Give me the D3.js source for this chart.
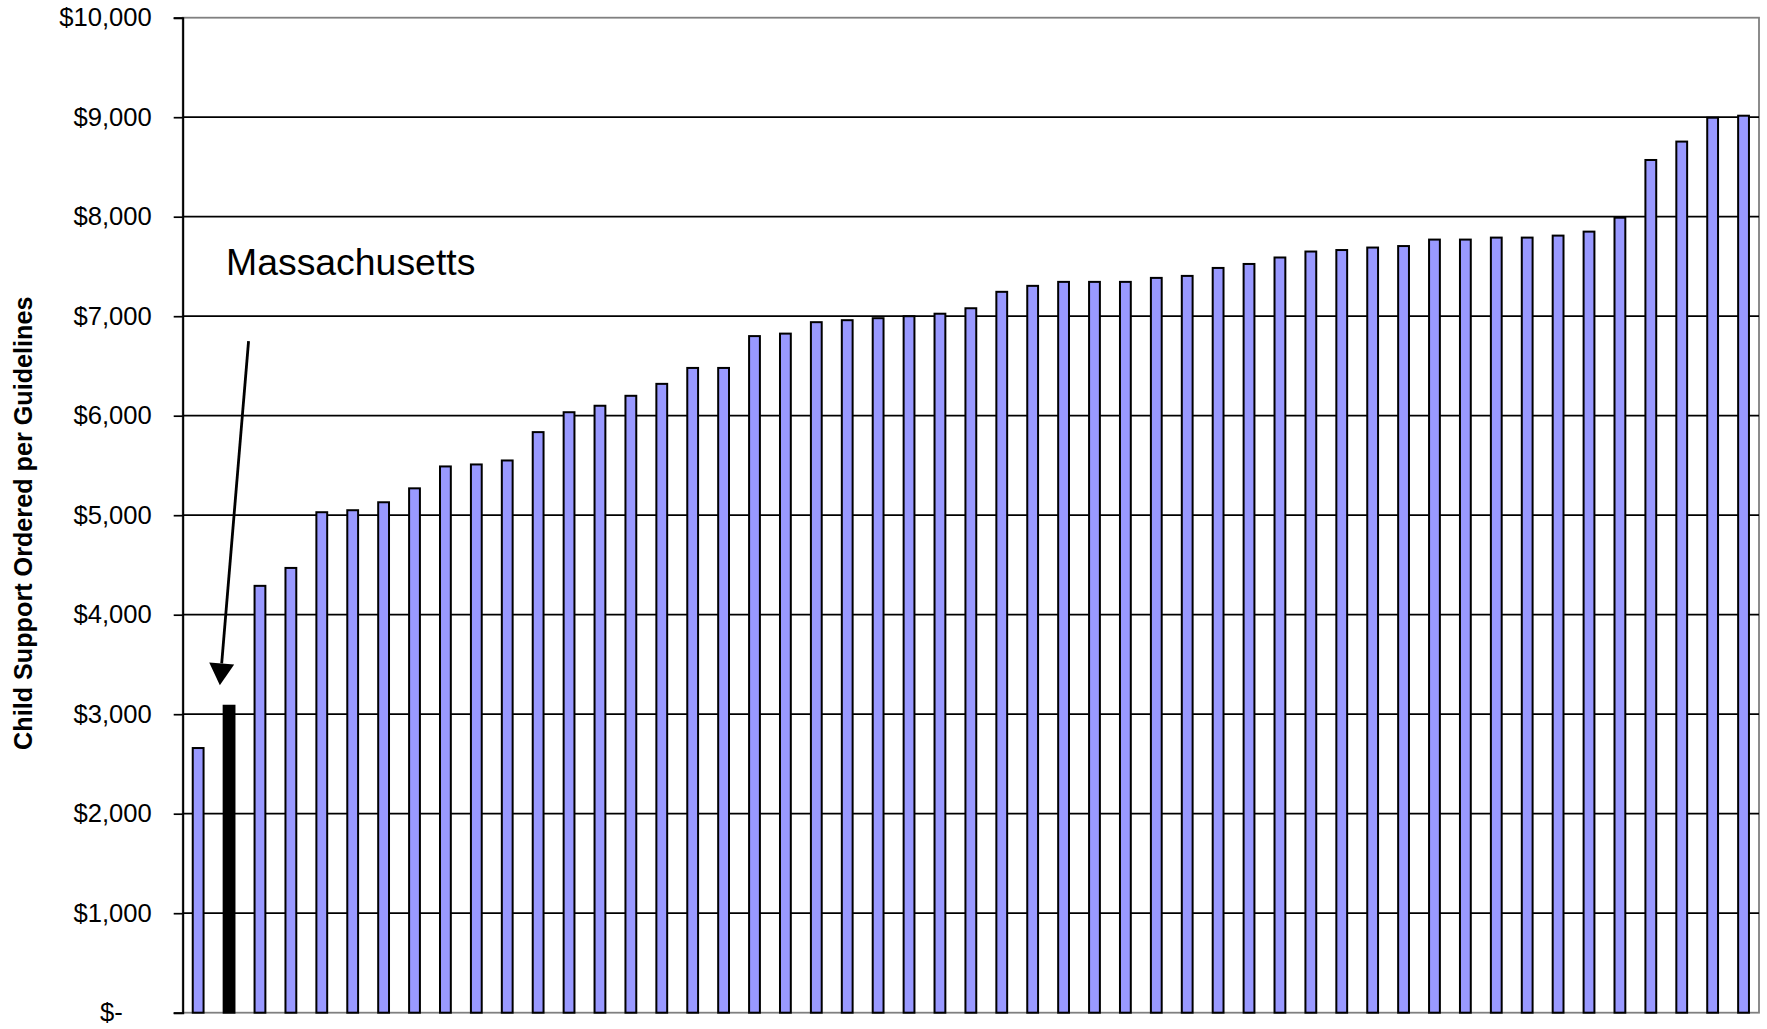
<!DOCTYPE html>
<html>
<head>
<meta charset="utf-8">
<script src="https://cdn.jsdelivr.net/npm/d3@7"></script>
<style>
  html, body { margin: 0; padding: 0; background: #fff; }
  svg { display: block; }
  text { font-family: "Liberation Sans", Arial, Helvetica, sans-serif; fill: #000; }
</style>
</head>
<body>
<svg id="chart" width="1767" height="1029"></svg>
<script>
// ---- data ----
const categories = d3.range(1, 52).map(i => "S" + i);
const values = [2660, 3085, 4290, 4470, 5030, 5050, 5130, 5270, 5490, 5510,
                5550, 5835, 6035, 6100, 6200, 6320, 6480, 6480, 6800, 6825,
                6940, 6960, 6980, 7000, 7025, 7080, 7245, 7305, 7345, 7345,
                7345, 7385, 7405, 7485, 7525, 7590, 7650, 7665, 7690, 7705,
                7770, 7770, 7790, 7790, 7810, 7850, 7990, 8570, 8755, 8995, 9015];
const highlightCategory = "S2";
const highlightLabel = "Massachusetts";
const yTicks = [0, 1000, 2000, 3000, 4000, 5000, 6000, 7000, 8000, 9000, 10000];
const yTickLabels = ["$-", "$1,000", "$2,000", "$3,000", "$4,000", "$5,000", "$6,000", "$7,000", "$8,000", "$9,000", "$10,000"];
const yTitle = "Child Support Ordered per Guidelines";

// ---- layout ----
const W = 1767, H = 1029;
const margin = { top: 17.7, right: 8, bottom: 16.3, left: 182.7 };
const pw = W - margin.left - margin.right;
const ph = H - margin.top - margin.bottom;

const svg = d3.select("#chart");
const g = svg.append("g").attr("transform", `translate(${margin.left},${margin.top})`);

const x = d3.scaleBand().domain(categories).range([0, pw]).paddingInner(0.65).paddingOuter(0.325);
const y = d3.scaleLinear().domain([0, 10000]).range([ph, 0]);

// plot border (grey)
g.append("rect")
  .attr("x", 0).attr("y", 0).attr("width", pw).attr("height", ph)
  .attr("fill", "none").attr("stroke", "#808080").attr("stroke-width", 1.8);

// gridlines
g.append("g").selectAll("line")
  .data(yTicks.filter(v => v > 0 && v < 10000))
  .join("line")
  .attr("x1", 0).attr("x2", pw)
  .attr("y1", d => y(d)).attr("y2", d => y(d))
  .attr("stroke", "#000").attr("stroke-width", 1.7);

// bars
g.append("g").selectAll("rect")
  .data(values.map((v, i) => ({ c: categories[i], v })))
  .join("rect")
  .attr("x", d => x(d.c))
  .attr("y", d => y(d.v))
  .attr("width", x.bandwidth())
  .attr("height", d => y(0) - y(d.v))
  .attr("fill", d => d.c === highlightCategory ? "#000" : "#9999FF")
  .attr("stroke", "#000")
  .attr("stroke-width", 2);

// y axis
const yAxis = d3.axisLeft(y)
  .tickValues(yTicks)
  .tickFormat((d, i) => yTickLabels[i])
  .tickSize(9)
  .tickPadding(22);
const ya = g.append("g").call(yAxis);
ya.select(".domain").attr("stroke", "#000").attr("stroke-width", 2);
ya.selectAll(".tick line").attr("stroke", "#000").attr("stroke-width", 1.7);
ya.selectAll(".tick text")
  .style("font-size", "25.6px")
  .style("font-family", "'Liberation Sans', Arial, sans-serif")
  .attr("fill", "#000")
  .attr("dx", d => d === 0 ? -29 : 0);

// y title
svg.append("text")
  .attr("transform", `translate(31.7,${margin.top + ph / 2 + 8}) rotate(-90)`)
  .attr("text-anchor", "middle")
  .style("font-size", "25.2px")
  .style("font-weight", "bold")
  .text(yTitle);

// annotation
const hc = x(highlightCategory) + x.bandwidth() / 2;
g.append("text")
  .attr("x", 43.3)
  .attr("y", y(7410))
  .style("font-size", "37.4px")
  .text(highlightLabel);

const x0 = hc + 19.5, y0 = y(6750);
const x1 = hc - 9.2, y1 = y(3290);
const ang = Math.atan2(y1 - y0, x1 - x0);
const headLen = 22, headHalf = 12.5;
const bx = x1 - headLen * Math.cos(ang), by = y1 - headLen * Math.sin(ang);
g.append("line")
  .attr("x1", x0).attr("y1", y0).attr("x2", bx).attr("y2", by)
  .attr("stroke", "#000").attr("stroke-width", 2.8);
const px = -Math.sin(ang), py = Math.cos(ang);
g.append("path")
  .attr("d", `M${x1},${y1}L${bx + px * headHalf},${by + py * headHalf}L${bx - px * headHalf},${by - py * headHalf}Z`)
  .attr("fill", "#000");
</script>
</body>
</html>
